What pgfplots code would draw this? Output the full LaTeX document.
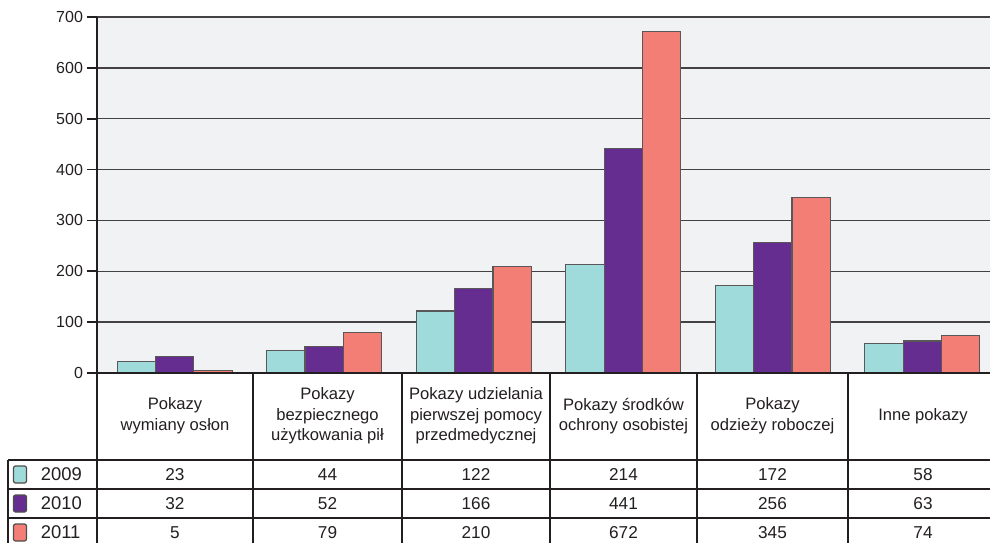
\documentclass[border=0pt]{standalone}
\usepackage{pgfplots}
\pgfplotsset{compat=1.18}
\usepackage{fontspec}
\setmainfont{Liberation Sans}
\definecolor{c09}{HTML}{9FDBDA}
\definecolor{c10}{HTML}{662D91}
\definecolor{c11}{HTML}{F37E76}
\definecolor{bgc}{HTML}{F1F2F4}
\definecolor{ink}{HTML}{231F20}
\begin{document}
\begin{tikzpicture}
\path[use as bounding box] (0,0) rectangle (495pt,271pt);
\clip (0,0) rectangle (495pt,271pt);
\begin{axis}[
  at={(48.5pt,84.5pt)}, anchor=south west, scale only axis,
  width=450pt, height=178pt,
  xmin=-0.52, xmax=5.5, ymin=0, ymax=700,
  ybar=0pt, bar width=19.15pt,
  axis background/.style={fill=bgc},
  axis x line=none,
  axis y line*=left,
  y axis line style={-, line width=1pt, ink},
  xtick=\empty,
  ytick={0,100,...,700},
  tick align=outside, major tick length=5pt,
  ytick style={ink, line width=0.8pt},
  yticklabel style={font=\fontsize{8}{9.6}\selectfont, text=ink, xshift=1.5pt},
  /pgf/number format/assume math mode=true,
  ymajorgrids,
  major grid style={ink!85, line width=0.7pt},
  clip=false,
]
\addplot[fill=c09, draw=ink!75, line width=0.6pt] coordinates {(0,23) (1,44) (2,122) (3,214) (4,172) (5,58)};
\addplot[fill=c10, draw=ink!75, line width=0.6pt] coordinates {(0,32) (1,52) (2,166) (3,441) (4,256) (5,63)};
\addplot[fill=c11, draw=ink!75, line width=0.6pt] coordinates {(0,5) (1,79) (2,210) (3,672) (4,345) (5,74)};
\end{axis}
\begin{scope}[x=0.5pt, y=-0.5pt, shift={(0,271pt)}]
\draw[ink, line width=1pt] (97,373) -- (1000,373);
\foreach \x in {97,253,402,550,697,848} \draw[ink, line width=1pt] (\x,373) -- (\x,550);
\foreach \y in {460,489,518,547} \draw[ink, line width=1pt] (8,\y) -- (1000,\y);
\draw[ink, line width=1pt] (8,460) -- (8,550);
\tikzset{hdr/.style={align=center, text=ink, font=\fontsize{8.3}{10.3}\selectfont},
         num/.style={text=ink, font=\fontsize{8.6}{10}\selectfont},
         yr/.style={text=ink, font=\fontsize{9.2}{10}\selectfont}}
\node[hdr] at (175,416) {Pokazy\\wymiany osłon};
\node[hdr] at (327.5,416) {Pokazy\\bezpiecznego\\użytkowania pił};
\node[hdr] at (476,416) {Pokazy udzielania\\pierwszej pomocy\\przedmedycznej};
\node[hdr] at (623.5,416) {Pokazy środków\\ochrony osobistej};
\node[hdr] at (772.5,416) {Pokazy\\odzieży roboczej};
\node[hdr] at (923,416) {Inne pokazy};
\foreach \c/\yy/\lab in {c09/474.5/2009, c10/503.5/2010, c11/532.5/2011}{
  \draw[fill=\c, draw=ink!80, line width=0.6pt, rounded corners=1pt] (13.5,\yy-8.5) rectangle (26.5,\yy+8.5);
  \node[yr, anchor=west, inner sep=0pt] at (40.5,\yy) {\lab};
}
\foreach \x/\a/\b/\cc in {175/23/32/5, 327.5/44/52/79, 476/122/166/210, 623.5/214/441/672, 772.5/172/256/345, 923/58/63/74}{
  \node[num] at (\x,474.5) {\a};
  \node[num] at (\x,503.5) {\b};
  \node[num] at (\x,532.5) {\cc};
}
\end{scope}
\end{tikzpicture}
\end{document}
